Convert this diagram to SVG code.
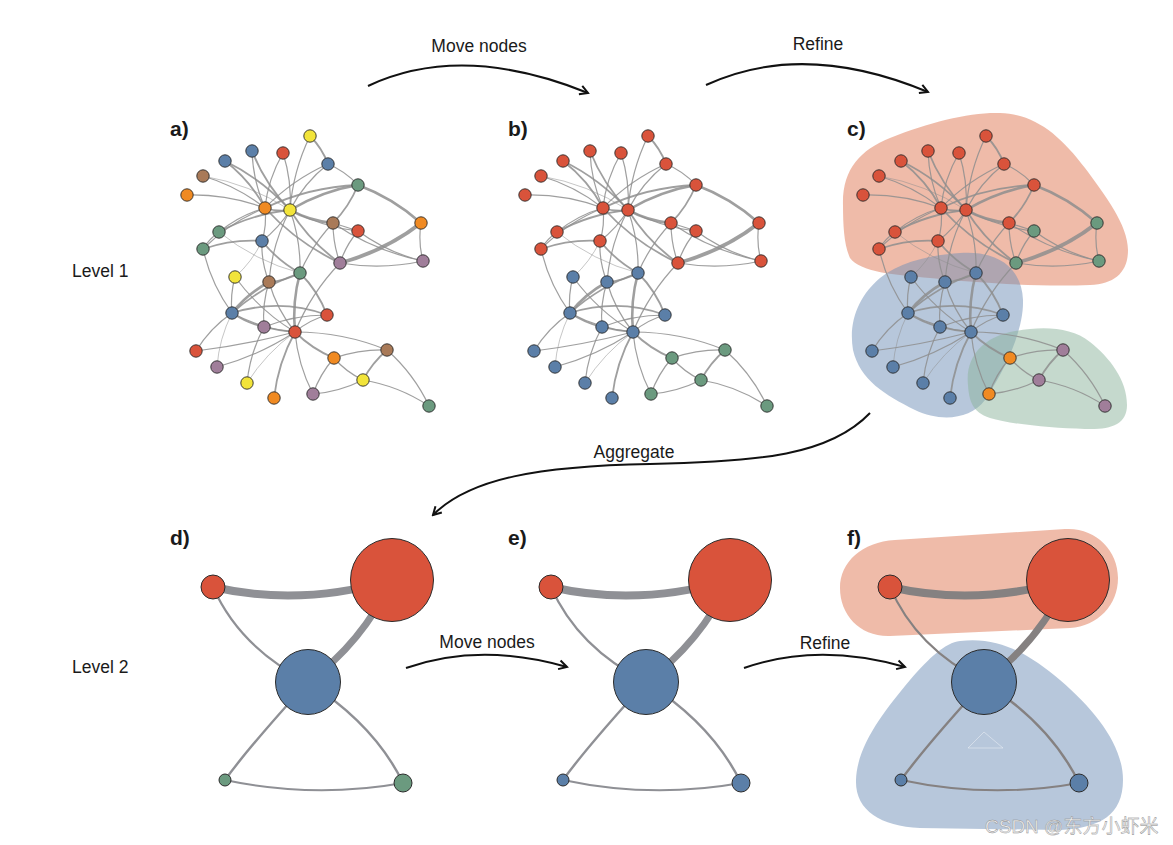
<svg xmlns="http://www.w3.org/2000/svg" width="1173" height="845" viewBox="0 0 1173 845">
<style>
text{font-family:"Liberation Sans","DejaVu Sans",sans-serif;fill:#1a1a1a}
.lab{font-size:17.5px}
.pl{font-size:21px;font-weight:bold}
.ed path{fill:none;stroke:#8e8e8e;stroke-opacity:.85}
.e1{stroke-width:.6}.e2{stroke-width:1.2}.e3{stroke-width:1.8}.e4{stroke-width:2.6}.e5{stroke-width:3.8}
.nd circle{stroke:#2b2b2b;stroke-width:.9}
.r{fill:#d9533b}.b{fill:#5b7fa8}.g{fill:#6b9a7f}.o{fill:#f08a22}.y{fill:#f2e43a}.n{fill:#a97a58}.p{fill:#a07e9a}
.arr{fill:none;stroke:#111;stroke-width:2}
.big{fill:none;stroke:#8f9095}
.bigf{fill:none;stroke:#858181}
.L2 circle{stroke:#2b2b2b;stroke-width:1}
</style>
<defs>
<marker id="ah" viewBox="0 0 12 12" refX="10" refY="6" markerWidth="12" markerHeight="12" markerUnits="userSpaceOnUse" orient="auto">
<path d="M2 1.5L10 6L2 10.5" fill="none" stroke="#111" stroke-width="2"/>
</marker>
<g id="E" class="ed">
<path class="e2" d="M310 136Q293 171 290 210"/>
<path class="e3" d="M310 136Q322 148 328 164"/>
<path class="e2" d="M252 151Q253 181 265 208"/>
<path class="e3" d="M252 151Q265 184 290 210"/>
<path class="e2" d="M283 153Q268 179 265 208"/>
<path class="e2" d="M283 153Q292 181 290 210"/>
<path class="e3" d="M225 161Q250 180 265 208"/>
<path class="e3" d="M225 161Q262 179 290 210"/>
<path class="e2" d="M203 176Q237 186 265 208"/>
<path class="e1" d="M203 176Q250 184 290 210"/>
<path class="e2" d="M187 195Q227 194 265 208"/>
<path class="e2" d="M328 164Q304 183 290 210"/>
<path class="e2" d="M328 164Q292 180 265 208"/>
<path class="e2" d="M328 164Q345 171 358 185"/>
<path class="e4" d="M358 185Q322 191 290 210"/>
<path class="e3" d="M358 185Q309 187 265 208"/>
<path class="e3" d="M358 185Q349 207 333 223"/>
<path class="e4" d="M358 185Q393 198 421 223"/>
<path class="e3" d="M265 208Q277 212 290 210"/>
<path class="e2" d="M265 208Q240 215 219 232"/>
<path class="e3" d="M290 210Q252 214 219 232"/>
<path class="e2" d="M219 232Q209 239 203 249"/>
<path class="e2" d="M203 249Q230 222 265 208"/>
<path class="e3" d="M203 249Q232 239 262 241"/>
<path class="e2" d="M262 241Q267 225 265 208"/>
<path class="e2" d="M262 241Q279 228 290 210"/>
<path class="e1" d="M219 232Q255 261 300 273"/>
<path class="e4" d="M290 210Q310 221 333 223"/>
<path class="e3" d="M290 210Q310 242 340 263"/>
<path class="e3" d="M265 208Q297 243 340 263"/>
<path class="e2" d="M290 210Q322 227 358 231"/>
<path class="e2" d="M333 223Q346 227 358 231"/>
<path class="e2" d="M333 223Q312 245 300 273"/>
<path class="e2" d="M358 231Q346 245 340 263"/>
<path class="e2" d="M358 231Q388 253 423 261"/>
<path class="e2" d="M333 223Q374 251 423 261"/>
<path class="e5" d="M421 223Q385 251 340 263"/>
<path class="e2" d="M421 223Q418 242 423 261"/>
<path class="e2" d="M340 263Q382 270 423 261"/>
<path class="e2" d="M340 263Q311 293 295 332"/>
<path class="e2" d="M333 223Q333 244 340 263"/>
<path class="e2" d="M203 249Q211 284 232 313"/>
<path class="e3" d="M262 241Q278 261 300 273"/>
<path class="e2" d="M262 241Q261 262 269 282"/>
<path class="e2" d="M290 210Q272 244 269 282"/>
<path class="e2" d="M300 273Q301 241 290 210"/>
<path class="e2" d="M235 277Q230 295 232 313"/>
<path class="e2" d="M235 277Q260 311 295 332"/>
<path class="e1" d="M235 277Q252 262 262 241"/>
<path class="e4" d="M269 282Q247 294 232 313"/>
<path class="e3" d="M269 282Q285 281 300 273"/>
<path class="e2" d="M269 282Q262 304 264 327"/>
<path class="e2" d="M269 282Q277 310 295 332"/>
<path class="e3" d="M300 273Q262 286 232 313"/>
<path class="e4" d="M300 273Q292 302 295 332"/>
<path class="e3" d="M300 273Q318 291 327 315"/>
<path class="e3" d="M232 313Q280 298 327 315"/>
<path class="e3" d="M232 313Q247 323 264 327"/>
<path class="e2" d="M232 313Q262 329 295 332"/>
<path class="e2" d="M232 313Q210 328 196 351"/>
<path class="e1" d="M232 313Q219 339 217 367"/>
<path class="e2" d="M327 315Q294 315 264 327"/>
<path class="e2" d="M327 315Q309 320 295 332"/>
<path class="e3" d="M264 327Q279 331 295 332"/>
<path class="e2" d="M264 327Q250 353 247 383"/>
<path class="e2" d="M295 332Q245 345 196 351"/>
<path class="e2" d="M295 332Q258 356 217 367"/>
<path class="e1" d="M295 332Q266 353 247 383"/>
<path class="e3" d="M295 332Q278 363 274 398"/>
<path class="e2" d="M295 332Q298 365 313 394"/>
<path class="e3" d="M295 332Q312 349 334 358"/>
<path class="e2" d="M295 332Q343 332 387 350"/>
<path class="e2" d="M334 358Q361 349 387 350"/>
<path class="e2" d="M334 358Q346 372 363 380"/>
<path class="e2" d="M334 358Q320 374 313 394"/>
<path class="e3" d="M387 350Q372 363 363 380"/>
<path class="e2" d="M387 350Q414 374 429 406"/>
<path class="e2" d="M363 380Q339 392 313 394"/>
<path class="e2" d="M363 380Q399 386 429 406"/>
</g>
</defs>
<rect width="1173" height="845" fill="#fff"/>

<g id="hulls-c">
<path d="M843 205C842 170 860 150 890 138C930 122 970 112 1000 113C1035 114 1060 135 1085 168C1105 195 1128 225 1128 250C1128 272 1115 284 1090 285C1040 287 980 283 930 278C895 275 860 272 850 258C844 245 843 225 843 205Z" fill="#df7753" fill-opacity="0.5"/>
<path d="M880 278C900 262 930 255 960 253C1000 250 1022 270 1023 300C1024 330 1005 370 985 400C970 420 940 422 915 410C885 395 860 380 853 350C848 320 860 295 880 278Z" fill="#6f8fb7" fill-opacity="0.5"/>
<path d="M968 385C965 355 985 338 1010 332C1040 326 1070 326 1090 342C1110 358 1127 380 1127 405C1127 425 1110 430 1085 429C1050 428 1010 424 990 418C972 412 969 400 968 385Z" fill="#8bb39b" fill-opacity="0.5"/>
</g>
<g id="hulls-f">
<path d="M895 540L1065 529C1095 527 1118 550 1118 578C1118 605 1098 626 1070 628L890 636C860 637 840 615 840 588C840 562 862 542 895 540Z" fill="#df7753" fill-opacity="0.5"/>
<path d="M960 641C1000 636 1030 655 1060 680C1095 710 1123 745 1123 780C1123 815 1100 828 1060 830L920 828C880 826 855 810 856 780C857 745 885 710 910 680C930 657 945 643 960 641Z" fill="#6f8fb7" fill-opacity="0.5"/>
<path d="M968 748L1003 748L984 732Z" fill="none" stroke="#fff" stroke-opacity="0.5" stroke-width="0.8"/>
</g>

<g id="connectors">
<use href="#E"/>
<use href="#E" transform="translate(338,0)"/>
<use href="#E" transform="translate(676,0)"/>
<path class="big" stroke-width="8" d="M213 587Q300 607 392 580"/>
<path class="big" stroke-width="7" d="M392 580Q362 643 308 682"/>
<path class="big" stroke-width="2.2" d="M213 587Q240 648 308 682"/>
<path class="big" stroke-width="2.4" d="M308 682Q248 748 225 780"/>
<path class="big" stroke-width="2.4" d="M308 682Q375 725 403 783"/>
<path class="big" stroke-width="2" d="M225 780Q314 799 403 783"/>
<path class="big" stroke-width="8" d="M551 587Q638 607 730 580"/>
<path class="big" stroke-width="7" d="M730 580Q700 643 646 682"/>
<path class="big" stroke-width="2.2" d="M551 587Q578 648 646 682"/>
<path class="big" stroke-width="2.4" d="M646 682Q586 748 563 780"/>
<path class="big" stroke-width="2.4" d="M646 682Q713 725 741 783"/>
<path class="big" stroke-width="2" d="M563 780Q652 799 741 783"/>
<path class="bigf" stroke-width="8" d="M890 587Q977 607 1068 580"/>
<path class="bigf" stroke-width="7" d="M1068 580Q1038 643 984 682"/>
<path class="bigf" stroke-width="2" d="M890 587Q916 648 984 682"/>
<path class="bigf" stroke-width="2.4" d="M984 682Q924 748 901 780"/>
<path class="bigf" stroke-width="2.4" d="M984 682Q1051 725 1079 783"/>
<path class="bigf" stroke-width="2" d="M901 780Q990 799 1079 783"/>
<path class="arr" marker-end="url(#ah)" d="M368 86Q462 42 588 93"/>
<path class="arr" marker-end="url(#ah)" d="M706 85Q803 40 928 92"/>
<path class="arr" marker-end="url(#ah)" d="M870 413C830 455 760 462 650 464C540 466 470 478 433 515"/>
<path class="arr" marker-end="url(#ah)" d="M406 668Q480 642 567 667"/>
<path class="arr" marker-end="url(#ah)" d="M744 668Q818 642 905 667"/>
</g>

<g id="panel-a" class="nd">
<g id="a1"><circle class="y" cx="310" cy="136" r="6.2"/></g>
<g id="a2"><circle class="b" cx="252" cy="151" r="6.2"/></g>
<g id="a3"><circle class="r" cx="283" cy="153" r="6.2"/></g>
<g id="a4"><circle class="b" cx="225" cy="161" r="6.2"/></g>
<g id="a5"><circle class="b" cx="328" cy="164" r="6.2"/></g>
<g id="a6"><circle class="n" cx="203" cy="176" r="6.2"/></g>
<g id="a7"><circle class="g" cx="358" cy="185" r="6.2"/></g>
<g id="a8"><circle class="o" cx="187" cy="195" r="6.2"/></g>
<g id="a9"><circle class="o" cx="265" cy="208" r="6.2"/></g>
<g id="a10"><circle class="y" cx="290" cy="210" r="6.2"/></g>
<g id="a11"><circle class="n" cx="333" cy="223" r="6.2"/></g>
<g id="a12"><circle class="r" cx="358" cy="231" r="6.2"/></g>
<g id="a13"><circle class="o" cx="421" cy="223" r="6.2"/></g>
<g id="a14"><circle class="g" cx="219" cy="232" r="6.2"/></g>
<g id="a15"><circle class="b" cx="262" cy="241" r="6.2"/></g>
<g id="a16"><circle class="g" cx="203" cy="249" r="6.2"/></g>
<g id="a17"><circle class="p" cx="340" cy="263" r="6.2"/></g>
<g id="a18"><circle class="p" cx="423" cy="261" r="6.2"/></g>
<g id="a19"><circle class="y" cx="235" cy="277" r="6.2"/></g>
<g id="a20"><circle class="g" cx="300" cy="273" r="6.2"/></g>
<g id="a21"><circle class="n" cx="269" cy="282" r="6.2"/></g>
<g id="a22"><circle class="b" cx="232" cy="313" r="6.2"/></g>
<g id="a23"><circle class="r" cx="327" cy="315" r="6.2"/></g>
<g id="a24"><circle class="p" cx="264" cy="327" r="6.2"/></g>
<g id="a25"><circle class="r" cx="295" cy="332" r="6.2"/></g>
<g id="a26"><circle class="r" cx="196" cy="351" r="6.2"/></g>
<g id="a27"><circle class="n" cx="387" cy="350" r="6.2"/></g>
<g id="a28"><circle class="o" cx="334" cy="358" r="6.2"/></g>
<g id="a29"><circle class="p" cx="217" cy="367" r="6.2"/></g>
<g id="a30"><circle class="y" cx="363" cy="380" r="6.2"/></g>
<g id="a31"><circle class="y" cx="247" cy="383" r="6.2"/></g>
<g id="a32"><circle class="o" cx="274" cy="398" r="6.2"/></g>
<g id="a33"><circle class="p" cx="313" cy="394" r="6.2"/></g>
<g id="a34"><circle class="g" cx="429" cy="406" r="6.2"/></g>
</g>

<g id="panel-b" class="nd" transform="translate(338,0)">
<g id="b1"><circle class="r" cx="310" cy="136" r="6.2"/></g>
<g id="b2"><circle class="r" cx="252" cy="151" r="6.2"/></g>
<g id="b3"><circle class="r" cx="283" cy="153" r="6.2"/></g>
<g id="b4"><circle class="r" cx="225" cy="161" r="6.2"/></g>
<g id="b5"><circle class="r" cx="328" cy="164" r="6.2"/></g>
<g id="b6"><circle class="r" cx="203" cy="176" r="6.2"/></g>
<g id="b7"><circle class="r" cx="358" cy="185" r="6.2"/></g>
<g id="b8"><circle class="r" cx="187" cy="195" r="6.2"/></g>
<g id="b9"><circle class="r" cx="265" cy="208" r="6.2"/></g>
<g id="b10"><circle class="r" cx="290" cy="210" r="6.2"/></g>
<g id="b11"><circle class="r" cx="333" cy="223" r="6.2"/></g>
<g id="b12"><circle class="r" cx="358" cy="231" r="6.2"/></g>
<g id="b13"><circle class="r" cx="421" cy="223" r="6.2"/></g>
<g id="b14"><circle class="r" cx="219" cy="232" r="6.2"/></g>
<g id="b15"><circle class="r" cx="262" cy="241" r="6.2"/></g>
<g id="b16"><circle class="r" cx="203" cy="249" r="6.2"/></g>
<g id="b17"><circle class="r" cx="340" cy="263" r="6.2"/></g>
<g id="b18"><circle class="r" cx="423" cy="261" r="6.2"/></g>
<g id="b19"><circle class="b" cx="235" cy="277" r="6.2"/></g>
<g id="b20"><circle class="b" cx="300" cy="273" r="6.2"/></g>
<g id="b21"><circle class="b" cx="269" cy="282" r="6.2"/></g>
<g id="b22"><circle class="b" cx="232" cy="313" r="6.2"/></g>
<g id="b23"><circle class="b" cx="327" cy="315" r="6.2"/></g>
<g id="b24"><circle class="b" cx="264" cy="327" r="6.2"/></g>
<g id="b25"><circle class="b" cx="295" cy="332" r="6.2"/></g>
<g id="b26"><circle class="b" cx="196" cy="351" r="6.2"/></g>
<g id="b27"><circle class="g" cx="387" cy="350" r="6.2"/></g>
<g id="b28"><circle class="g" cx="334" cy="358" r="6.2"/></g>
<g id="b29"><circle class="b" cx="217" cy="367" r="6.2"/></g>
<g id="b30"><circle class="g" cx="363" cy="380" r="6.2"/></g>
<g id="b31"><circle class="b" cx="247" cy="383" r="6.2"/></g>
<g id="b32"><circle class="b" cx="274" cy="398" r="6.2"/></g>
<g id="b33"><circle class="g" cx="313" cy="394" r="6.2"/></g>
<g id="b34"><circle class="g" cx="429" cy="406" r="6.2"/></g>
</g>

<g id="panel-c" class="nd" transform="translate(676,0)">
<g id="c1"><circle class="r" cx="310" cy="136" r="6.2"/></g>
<g id="c2"><circle class="r" cx="252" cy="151" r="6.2"/></g>
<g id="c3"><circle class="r" cx="283" cy="153" r="6.2"/></g>
<g id="c4"><circle class="r" cx="225" cy="161" r="6.2"/></g>
<g id="c5"><circle class="r" cx="328" cy="164" r="6.2"/></g>
<g id="c6"><circle class="r" cx="203" cy="176" r="6.2"/></g>
<g id="c7"><circle class="r" cx="358" cy="185" r="6.2"/></g>
<g id="c8"><circle class="r" cx="187" cy="195" r="6.2"/></g>
<g id="c9"><circle class="r" cx="265" cy="208" r="6.2"/></g>
<g id="c10"><circle class="r" cx="290" cy="210" r="6.2"/></g>
<g id="c11"><circle class="r" cx="333" cy="223" r="6.2"/></g>
<g id="c12"><circle class="g" cx="358" cy="231" r="6.2"/></g>
<g id="c13"><circle class="g" cx="421" cy="223" r="6.2"/></g>
<g id="c14"><circle class="r" cx="219" cy="232" r="6.2"/></g>
<g id="c15"><circle class="r" cx="262" cy="241" r="6.2"/></g>
<g id="c16"><circle class="r" cx="203" cy="249" r="6.2"/></g>
<g id="c17"><circle class="g" cx="340" cy="263" r="6.2"/></g>
<g id="c18"><circle class="g" cx="423" cy="261" r="6.2"/></g>
<g id="c19"><circle class="b" cx="235" cy="277" r="6.2"/></g>
<g id="c20"><circle class="b" cx="300" cy="273" r="6.2"/></g>
<g id="c21"><circle class="b" cx="269" cy="282" r="6.2"/></g>
<g id="c22"><circle class="b" cx="232" cy="313" r="6.2"/></g>
<g id="c23"><circle class="b" cx="327" cy="315" r="6.2"/></g>
<g id="c24"><circle class="b" cx="264" cy="327" r="6.2"/></g>
<g id="c25"><circle class="b" cx="295" cy="332" r="6.2"/></g>
<g id="c26"><circle class="b" cx="196" cy="351" r="6.2"/></g>
<g id="c27"><circle class="p" cx="387" cy="350" r="6.2"/></g>
<g id="c28"><circle class="o" cx="334" cy="358" r="6.2"/></g>
<g id="c29"><circle class="b" cx="217" cy="367" r="6.2"/></g>
<g id="c30"><circle class="p" cx="363" cy="380" r="6.2"/></g>
<g id="c31"><circle class="b" cx="247" cy="383" r="6.2"/></g>
<g id="c32"><circle class="b" cx="274" cy="398" r="6.2"/></g>
<g id="c33"><circle class="o" cx="313" cy="394" r="6.2"/></g>
<g id="c34"><circle class="p" cx="429" cy="406" r="6.2"/></g>
</g>

<g id="panel-d" class="L2">
<g id="d-red-small"><circle class="r" cx="213" cy="587" r="12"/></g>
<g id="d-red-big"><circle class="r" cx="392" cy="580" r="41.5"/></g>
<g id="d-blue"><circle class="b" cx="308" cy="682" r="32.5"/></g>
<g id="d-green-l"><circle class="g" cx="225" cy="780" r="6"/></g>
<g id="d-green-r"><circle class="g" cx="403" cy="783" r="9"/></g>
</g>
<g id="panel-e" class="L2">
<g id="e-red-small"><circle class="r" cx="551" cy="587" r="12"/></g>
<g id="e-red-big"><circle class="r" cx="730" cy="580" r="41.5"/></g>
<g id="e-blue"><circle class="b" cx="646" cy="682" r="32.5"/></g>
<g id="e-blue-l"><circle class="b" cx="563" cy="780" r="6"/></g>
<g id="e-blue-r"><circle class="b" cx="741" cy="783" r="9"/></g>
</g>
<g id="panel-f" class="L2">
<g id="f-red-small"><circle class="r" cx="890" cy="587" r="12"/></g>
<g id="f-red-big"><circle class="r" cx="1068" cy="580" r="41.5"/></g>
<g id="f-blue"><circle class="b" cx="984" cy="682" r="32.5"/></g>
<g id="f-blue-l"><circle class="b" cx="901" cy="780" r="6"/></g>
<g id="f-blue-r"><circle class="b" cx="1079" cy="783" r="9"/></g>
</g>

<g id="labels">
<text class="lab" x="479" y="52" text-anchor="middle">Move nodes</text>
<text class="lab" x="818" y="50" text-anchor="middle">Refine</text>
<text class="lab" x="634" y="458" text-anchor="middle">Aggregate</text>
<text class="lab" x="487" y="648" text-anchor="middle">Move nodes</text>
<text class="lab" x="825" y="649" text-anchor="middle">Refine</text>
<text class="lab" x="72" y="277">Level 1</text>
<text class="lab" x="72" y="673">Level 2</text>
<text class="pl" x="170" y="136">a)</text>
<text class="pl" x="508" y="136">b)</text>
<text class="pl" x="847" y="136">c)</text>
<text class="pl" x="170" y="545">d)</text>
<text class="pl" x="508" y="545">e)</text>
<text class="pl" x="847" y="545">f)</text>
<text x="985" y="833" font-size="19" stroke="#8a8a8a" stroke-width="0.4" style="font-family:'Liberation Sans','Noto Sans CJK SC',sans-serif;fill:#eeeeee">CSDN @东方小虾米</text>
</g>
</svg>
